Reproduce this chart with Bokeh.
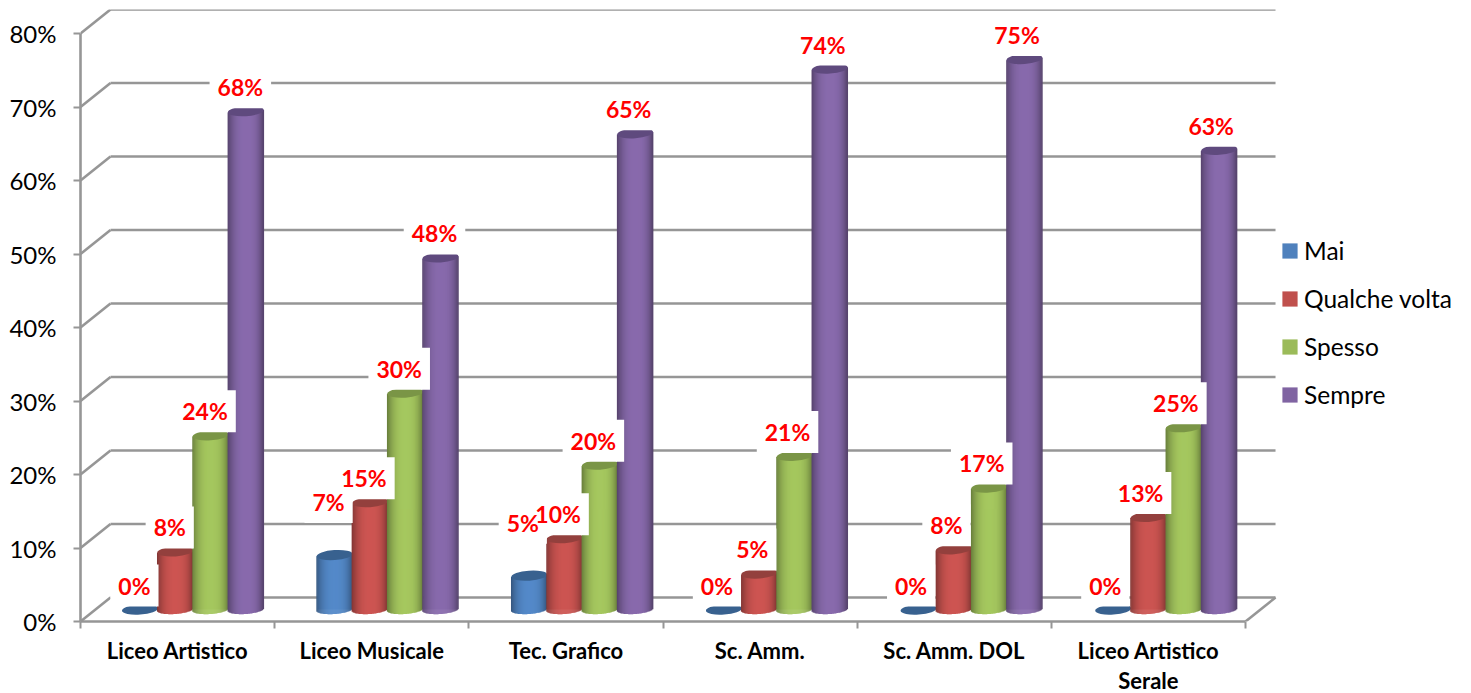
import math
from bokeh.core.properties import value as V
from bokeh.embed import file_html
from bokeh.models import ColumnDataSource, FixedTicker, Legend, LegendItem, PrintfTickFormatter, Range1d
from bokeh.plotting import figure
from bokeh.resources import INLINE

categories = ["Liceo Artistico", "Liceo Musicale", "Tec. Grafico", "Sc. Amm.", "Sc. Amm. DOL", "Liceo Artistico\nSerale"]
series_names = ["Mai", "Qualche volta", "Spesso", "Sempre"]
mai = [0.0, 7.4, 4.6, 0.0, 0.0, 0.0]
qualche_volta = [7.9, 14.6, 9.7, 4.9, 8.2, 12.6]
spesso = [23.7, 29.5, 19.7, 20.9, 16.6, 24.8]
sempre = [67.8, 47.9, 64.8, 73.6, 74.9, 62.55]
y_ticks = [0, 10, 20, 30, 40, 50, 60, 70, 80]

series_values = [mai, qualche_volta, spesso, sempre]
colors = ["#4F81BD", "#C0504D", "#9BBB59", "#8064A2"]
top_colors = ["#38618F", "#93403D", "#7A9546", "#5F4A7E"]

# pixel geometry of the pseudo-3D scene
W, H = 1471, 693
GW = 194.17          # px per category on the axis
BAR_GW = 194.65      # px between bar groups (drawn slightly further apart by the perspective)
PY = 7.35            # px per percent
FRAME_L, FRAME_T = 80, 9
FRAME_W, FRAME_H = W - FRAME_L, 612
DEPTH_X, DEPTH_Y = 30 / GW, 24 / PY
MID_X, MID_Y = 15.3 / GW, 12 / PY
STEP, BAR_W, RX, RY = 35.3, 36.0, 18.0, 4.5
TILT = math.radians(4)
GRID = "#969696"
GRID_W = 2.6

p = figure(width=W, height=H, output_backend="svg", toolbar_location=None,
           frame_width=FRAME_W, frame_height=FRAME_H,
           x_range=Range1d(0, FRAME_W / GW),
           y_range=Range1d(0, FRAME_H / PY),
           min_border_left=FRAME_L, min_border_right=0, min_border_top=FRAME_T, min_border_bottom=0)
p.outline_line_color = None
p.grid.visible = False
p.background_fill_color = "white"

# walls
n = len(categories)
xs0, ys0, xs1, ys1 = [], [], [], []
for t in y_ticks:
    xs0 += [0, DEPTH_X]
    ys0 += [t, t + DEPTH_Y]
    xs1 += [DEPTH_X, n + DEPTH_X]
    ys1 += [t + DEPTH_Y, t + DEPTH_Y]
xs0.append(n)
ys0.append(0)
xs1.append(n + DEPTH_X)
ys1.append(DEPTH_Y)
p.segment(xs0, ys0, xs1, ys1, line_color=GRID, line_width=GRID_W)

# axes
ax = p.xaxis[0]
ax.ticker = FixedTicker(ticks=[i + 0.5 for i in range(n)], minor_ticks=list(range(n + 1)))
ax.major_label_overrides = {i + 0.5: c for i, c in enumerate(categories)}
ax.bounds = (0, n)
ax.axis_line_color = GRID
ax.axis_line_width = GRID_W
ax.major_tick_line_color = None
ax.minor_tick_line_color = GRID
ax.minor_tick_line_width = 2
ax.minor_tick_out = 7
ax.minor_tick_in = 0
ax.major_tick_out = 0
ax.major_tick_in = 0
ax.major_label_standoff = 8
ax.major_label_text_font = "Lato"
ax.major_label_text_font_style = "bold"
ax.major_label_text_font_size = "22px"
ax.major_label_text_color = "#000000"
ax.major_label_text_line_height = 1.13

ay = p.yaxis[0]
ay.ticker = FixedTicker(ticks=y_ticks, minor_ticks=[])
ay.formatter = PrintfTickFormatter(format="%d%%")
ay.bounds = (0, 80)
ay.axis_line_color = GRID
ay.axis_line_width = GRID_W
ay.major_tick_line_color = GRID
ay.major_tick_line_width = 2
ay.major_tick_out = 7
ay.major_tick_in = 0
ay.major_label_standoff = 17
ay.major_label_text_font = "Lato"
ay.major_label_text_font_size = "24px"
ay.major_label_text_color = "#000000"


def shade(col, u):
    r, g, b = int(col[1:3], 16), int(col[3:5], 16), int(col[5:7], 16)
    f = 1.07 - 0.40 * abs(u) ** 2.4 if u < 0 else 1.07 - 0.42 * abs(u) ** 3
    return "#%02x%02x%02x" % (min(255, int(r * f)), min(255, int(g * f)), min(255, int(b * f)))


legend_items = []
lab_x, lab_y, lab_t, lab_off = [], [], [], []
for s, (vals, name, col, tcol) in enumerate(zip(series_values, series_names, colors, top_colors)):
    cx = [(g * BAR_GW + 0.5 * GW) / GW + MID_X + (s - 1.5) * STEP / GW for g in range(n)]
    flat_top = [v + MID_Y for v in vals]
    keep = [i for i, v in enumerate(vals) if v > 0]
    flat = p.vbar(x=[cx[i] for i in keep], width=(BAR_W - 2) / GW, bottom=MID_Y, top=[flat_top[i] for i in keep],
                  fill_color=col, line_color=None)
    legend_items.append(LegendItem(label=name, renderers=[flat]))
    sx, sb, st, sc = [], [], [], []
    for i in keep:
        for k in range(int(BAR_W)):
            off = -RX + k + 0.5
            u = off / RX
            sag = RY * math.sqrt(max(0.0, 1 - u * u)) - off * math.tan(TILT)
            sx.append(cx[i] + off / GW)
            sb.append(MID_Y - sag / PY)
            st.append(flat_top[i] + off * math.tan(TILT) / PY)
            sc.append(shade(col, u))
    p.vbar(x="x", bottom="b", top="t", width=1.5 / GW, fill_color="c", line_color=None,
           source=ColumnDataSource(dict(x=sx, b=sb, t=st, c=sc)))
    p.ellipse(x=cx, y=flat_top, width=BAR_W, height=2 * RY + 1, width_units="screen", height_units="screen",
              angle=TILT, fill_color=tcol, line_color=None)
    for i, v in enumerate(vals):
        lab_x.append(cx[i] - i * (BAR_GW - GW) / GW)
        lab_y.append(flat_top[i])
        lab_t.append("%d%%" % round(v))
        lab_off.append(-53 if (s == 0 and v > 0) else -24)

label_style = dict(x=lab_x, y=lab_y, text=lab_t, x_offset=-5.5, y_offset=lab_off,
                   text_font=V("Lato"), text_font_style="bold", text_font_size="23px",
                   text_align="center", text_baseline="middle")
p.text(text_color="white", text_alpha=0.0, background_fill_color="white", padding=(8, 7), **label_style)
p.text(text_color="#FF0000", **label_style)

legend = Legend(items=legend_items, location=(1200, 212), orientation="vertical",
                border_line_color=None, background_fill_alpha=0, padding=0, margin=0,
                glyph_width=19, glyph_height=19, label_standoff=5, spacing=19,
                label_text_font="Lato", label_text_font_size="24.5px", label_text_color="#000000")
p.add_layout(legend, "center")

open("out.html", "w").write(file_html(p, INLINE))
